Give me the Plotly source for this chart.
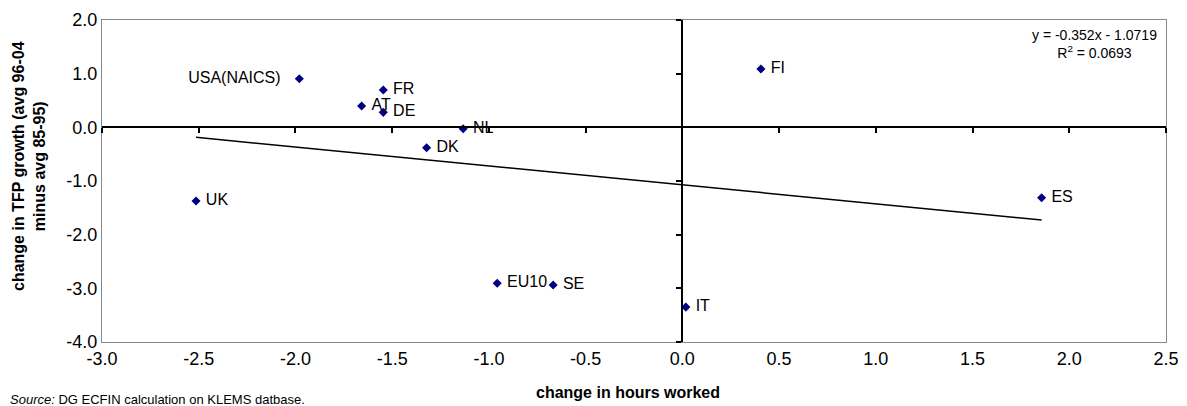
import plotly.graph_objects as go

countries = ["USA(NAICS)", "FR", "AT", "DE", "NL", "DK", "UK", "EU10", "SE", "FI", "ES", "IT"]
hours_change = [-1.98, -1.546, -1.658, -1.546, -1.133, -1.322, -2.514, -0.957, -0.668, 0.406, 1.857, 0.018]
tfp_change = [0.905, 0.695, 0.397, 0.279, -0.026, -0.38, -1.372, -2.905, -2.937, 1.086, -1.313, -3.35]
label_pos = ["middle left", "middle right", "middle right", "middle right", "middle right", "middle right",
             "middle right", "middle right", "middle right", "middle right", "middle right", "middle right"]

slope = -0.352
intercept = -1.0719
r2 = 0.0693

x_ticks = [-3.0, -2.5, -2.0, -1.5, -1.0, -0.5, 0.0, 0.5, 1.0, 1.5, 2.0, 2.5]
y_ticks = [2.0, 1.0, 0.0, -1.0, -2.0, -3.0, -4.0]
x_ticktext = [f"{v:.1f}" for v in x_ticks]
y_ticktext = [f"{v:.1f}" for v in y_ticks]

xmin, xmax = min(hours_change), max(hours_change)
trend_x = [xmin, xmax]
trend_y = [slope * v + intercept for v in trend_x]

FONT = "Liberation Sans, Arial, sans-serif"
NB = "\u00a0"
labels = [(NB + c + NB * 3) if p == "middle left" else (NB + c + NB) for c, p in zip(countries, label_pos)]

fig = go.Figure()
fig.add_trace(go.Scatter(x=trend_x, y=trend_y, mode="lines",
                         line=dict(color="black", width=1.5), showlegend=False, hoverinfo="skip"))
fig.add_trace(go.Scatter(x=hours_change, y=tfp_change, mode="markers+text",
                         text=labels, textposition=label_pos,
                         textfont=dict(family=FONT, size=16, color="black"),
                         marker=dict(symbol="diamond", size=7, color="#000080"),
                         showlegend=False))
# dummy trace to realise the crossing axes
fig.add_trace(go.Scatter(x=[0], y=[0], xaxis="x2", yaxis="y2", mode="markers",
                         marker=dict(size=1, opacity=0), showlegend=False, hoverinfo="skip"))

# page body has an 8px default margin: compensate so the plot sits where the reference has it
fig.update_layout(
    width=1179, height=398,
    margin=dict(l=94, r=21, t=12, b=64, autoexpand=False),
    paper_bgcolor="white", plot_bgcolor="white",
    font=dict(family=FONT, size=16, color="black"),
    xaxis=dict(range=[-3, 2.5], tickvals=x_ticks, ticktext=x_ticktext, showgrid=False, zeroline=False,
               showline=True, linecolor="#888888", linewidth=1, mirror=True, ticks="",
               tickfont=dict(size=18), automargin=False),
    yaxis=dict(range=[-4, 2], tickvals=y_ticks, ticktext=y_ticktext, showgrid=False, zeroline=False,
               showline=True, linecolor="#888888", linewidth=1, mirror=True, ticks="",
               tickfont=dict(size=18), automargin=False),
    xaxis2=dict(range=[-3, 2.5], overlaying="x", anchor="free", position=4 / 6, side="bottom",
                showline=True, linecolor="black", linewidth=2, ticks="outside", ticklen=5,
                tickwidth=1.5, tickcolor="black", tickvals=x_ticks, showticklabels=False,
                showgrid=False, zeroline=False, automargin=False),
    yaxis2=dict(range=[-4, 2], overlaying="y", anchor="free", position=3 / 5.5, side="left",
                showline=True, linecolor="black", linewidth=2, ticks="outside", ticklen=5,
                tickwidth=1.5, tickcolor="black", tickvals=y_ticks, showticklabels=False,
                showgrid=False, zeroline=False, automargin=False),
)


def px_x(p):
    return (p - 102) / (1166 - 102)


def px_y(p):
    return (342 - p) / (342 - 20)


fig.add_annotation(x=px_x(628), y=px_y(393), xref="paper", yref="paper", xanchor="center", yanchor="middle",
                   text="<b>change in hours worked</b>", showarrow=False, font=dict(size=16))
fig.add_annotation(x=px_x(29), y=px_y(166), xref="paper", yref="paper", xanchor="center", yanchor="middle",
                   text="<b>change in TFP growth (avg 96-04<br>minus avg 85-95)</b>",
                   textangle=-90, showarrow=False, font=dict(size=16))
fig.add_annotation(x=px_x(8), y=px_y(399), xref="paper", yref="paper", xanchor="left", yanchor="middle",
                   text="<i>Source:</i> DG ECFIN calculation on KLEMS datbase.",
                   showarrow=False, font=dict(size=13))
fig.add_annotation(x=px_x(1094), y=px_y(44), xref="paper", yref="paper", xanchor="center", yanchor="middle",
                   text=f"y = {slope}x - {abs(intercept)}<br>R<sup>2</sup> = {r2}",
                   showarrow=False, font=dict(size=14), align="center")

fig.write_html("out.html")
